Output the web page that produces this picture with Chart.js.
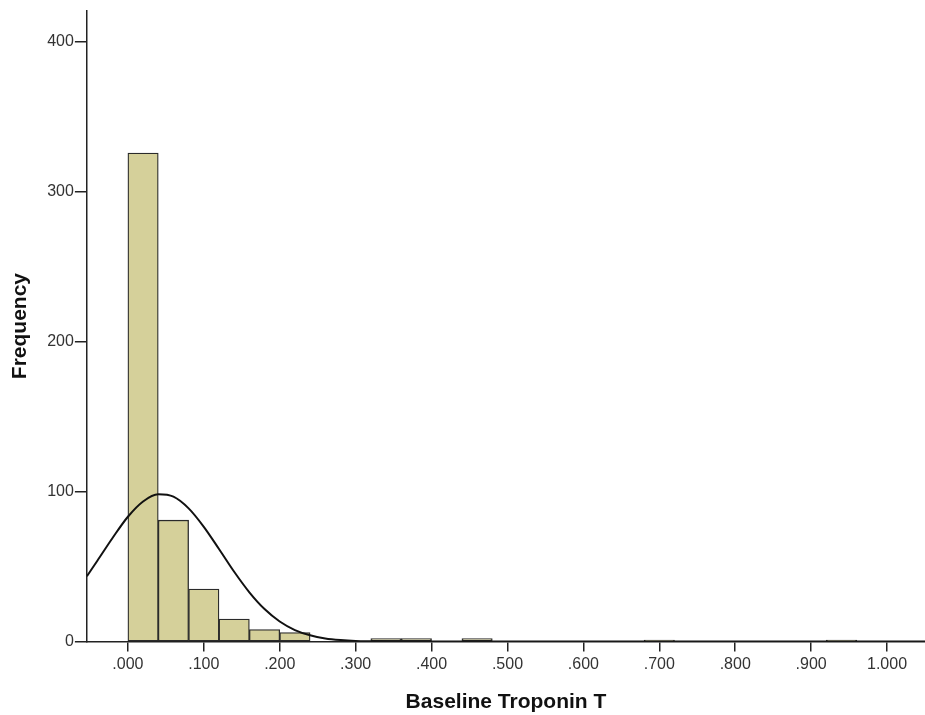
<!DOCTYPE html>
<html>
<head>
<meta charset="utf-8">
<script src="https://cdn.jsdelivr.net/npm/chart.js"></script>
<style>
  body{margin:0;background:#fff;}
  #wrap{width:925px;height:715px;}
</style>
</head>
<body>
<div id="wrap"><canvas id="myCanvas" width="925" height="715"></canvas></div>
<script>
// histogram bins (start of each .04 bin) and counts
var binStart=[0.00,0.04,0.08,0.12,0.16,0.20,0.32,0.36,0.44,0.68,0.92];
var binCount=[326,81,35,15,8,6,2,2,2,1,1];
var binWidth=0.04;

// normal curve
var curveX=[-0.054,-0.04,-0.02,0.00,0.02,0.04,0.06,0.08,0.10,0.12,0.14,0.16,0.18,0.20,0.22,0.24,0.26,0.28,0.30,0.32,0.34,0.40,1.05];
var curveY=[43.6,54.1,69.3,83.3,93.5,98.3,96.7,88.9,76.6,61.8,46.6,32.9,21.7,13.4,7.7,4.2,2.1,1.0,0.4,0.2,0.1,0,0];

var xTicks=[0,0.1,0.2,0.3,0.4,0.5,0.6,0.7,0.8,0.9,1.0];
var xTickLabels=['.000','.100','.200','.300','.400','.500','.600','.700','.800','.900','1.000'];
var yTicks=[0,100,200,300,400];

var bars=[];
for(var i in binStart){
  bars.push({x:binStart[i]+binWidth/2,y:binCount[i]});
}
var curve=[];
for(var j in curveX){
  curve.push({x:curveX[j],y:curveY[j]});
}

var ctx=document.getElementById('myCanvas');
var chart=new Chart(ctx,{
  data:{
    datasets:[
      {
        type:'line',
        data:curve,
        borderColor:'#111',
        borderWidth:2,
        pointRadius:0,
        cubicInterpolationMode:'monotone',
        fill:false,
        order:0
      },
      {
        type:'bar',
        data:bars,
        backgroundColor:'#d5d09a',
        borderColor:'#2a2a2a',
        borderWidth:1.3,
        borderSkipped:false,
        barPercentage:1,
        categoryPercentage:1,
        order:1
      }
    ]
  },
  options:{
    responsive:false,
    animation:false,
    layout:{padding:{top:6,right:0,left:8,bottom:0}},
    plugins:{legend:{display:false},tooltip:{enabled:false}},
    scales:{
      x:{
        type:'linear',
        offset:false,
        min:-0.054,
        max:1.05,
        afterBuildTicks:function(s){ s.ticks=xTicks.map(function(v){return {value:v};}); },
        ticks:{
          autoSkip:false,
          maxRotation:0,
          color:'#333',
          font:{family:'Liberation Sans',size:16},
          padding:3,
          callback:function(v){ var k=xTicks.indexOf(v); return k<0?'':xTickLabels[k]; }
        },
        grid:{offset:false,drawOnChartArea:false,drawTicks:true,tickLength:10,color:'#222',lineWidth:1.5},
        border:{display:true,color:'#222',width:1.5},
        title:{display:true,text:'Baseline Troponin T',color:'#111',font:{family:'Liberation Sans',size:21,weight:'bold'},padding:{top:13,bottom:0}}
      },
      y:{
        min:0,
        max:421,
        afterBuildTicks:function(s){ s.ticks=yTicks.map(function(v){return {value:v};}); },
        ticks:{
          color:'#333',
          font:{family:'Liberation Sans',size:16},
          padding:1
        },
        grid:{drawOnChartArea:false,drawTicks:true,tickLength:12,color:'#222',lineWidth:1.5},
        border:{display:true,color:'#222',width:1.5},
        title:{display:true,text:'Frequency',color:'#111',font:{family:'Liberation Sans',size:21,weight:'bold'},padding:{top:0,bottom:13}}
      }
    }
  }
});
</script>
</body>
</html>
